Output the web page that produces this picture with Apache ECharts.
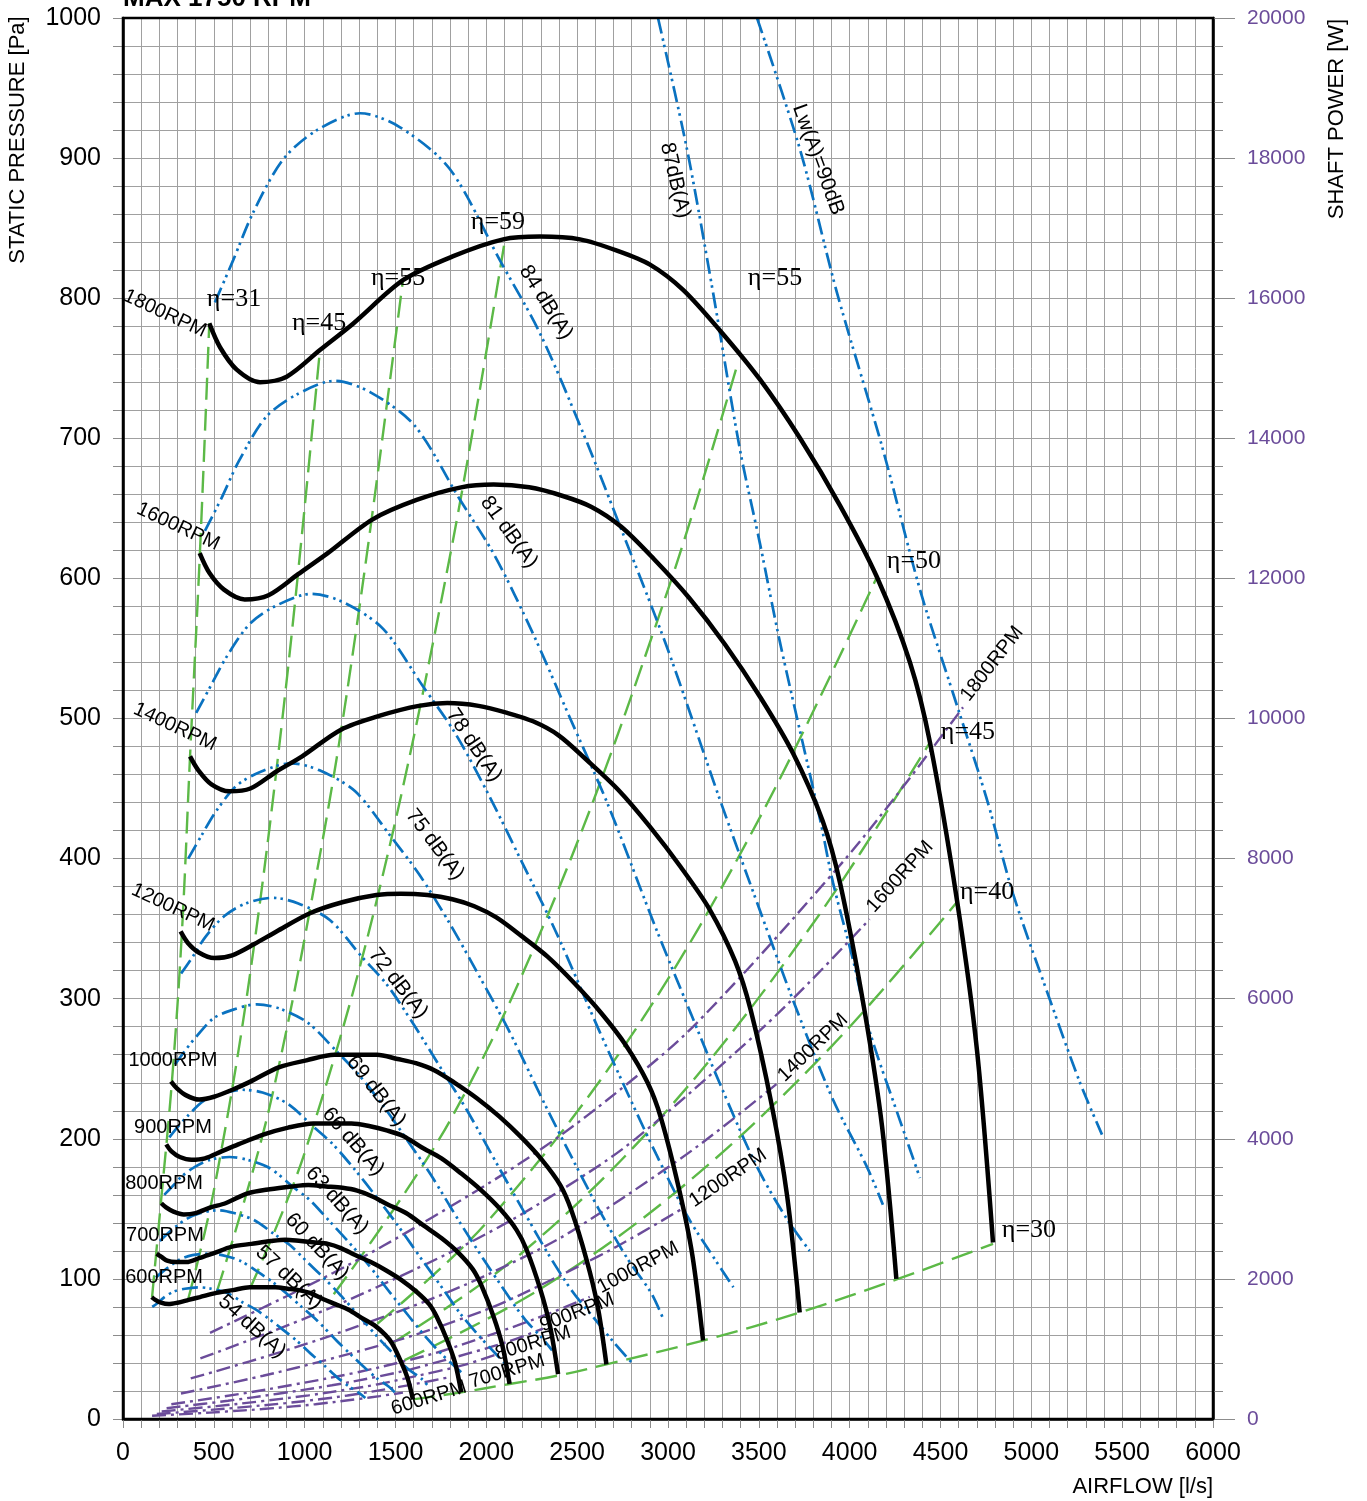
<!DOCTYPE html>
<html><head><meta charset="utf-8">
<script src="https://cdn.jsdelivr.net/npm/echarts/dist/echarts.min.js"></script>
<style>html,body{margin:0;padding:0;background:#fff}#c{width:1367px;height:1501px}</style>
</head><body><div id="c"></div>
<script>
// ---------- axes ----------
const xAxisRange = [0, 6000, 500];
const pAxisRange = [0, 1000, 100];
const wAxisRange = [0, 20000, 2000];

// ---------- fan curves (airflow l/s, static pressure Pa) ----------
const rpm1800 = [[475,782],[534,765],[626,749],[754,740],[901,744],[1084,763],[1268,782],[1543,813],[1818,830],[2093,842],[2295,844],[2516,842],[2719,834],[2901,824],[3083,806],[3286,777],[3506,742],[3727,700],[3947,652],[4150,601],[4332,540],[4442,483],[4591,370],[4701,263],[4789,126]];
const rpm1600 = [[422,618],[475,604],[556,592],[670,585],[801,588],[964,603],[1127,618],[1372,642],[1616,656],[1861,665],[2040,667],[2236,665],[2417,659],[2579,651],[2741,637],[2921,614],[3117,586],[3313,553],[3509,515],[3689,475],[3851,427],[3948,382],[4081,292],[4179,208],[4257,100]];
const rpm1400 = [[369,473],[415,463],[487,453],[586,448],[701,450],[843,462],[986,473],[1200,492],[1414,502],[1628,509],[1785,511],[1957,509],[2115,504],[2257,498],[2398,488],[2556,470],[2727,449],[2899,423],[3070,394],[3228,364],[3369,327],[3455,292],[3571,224],[3656,159],[3725,76]];
const rpm1200 = [[317,348],[356,340],[417,333],[503,329],[601,331],[723,339],[845,348],[1029,361],[1212,369],[1395,374],[1530,375],[1677,374],[1813,371],[1934,366],[2055,358],[2191,345],[2337,330],[2485,311],[2631,290],[2767,267],[2888,240],[2961,215],[3061,164],[3134,117],[3193,56]];
const rpm1000 = [[264,241],[297,236],[348,231],[419,228],[501,230],[602,235],[704,241],[857,251],[1010,256],[1163,260],[1275,260],[1398,260],[1511,257],[1612,254],[1713,249],[1826,240],[1948,229],[2071,216],[2193,201],[2306,185],[2407,167],[2468,149],[2551,114],[2612,81],[2661,39]];
const rpm900 = [[238,196],[267,191],[313,187],[377,185],[451,186],[542,191],[634,196],[772,203],[909,208],[1047,211],[1148,211],[1258,211],[1360,209],[1451,206],[1542,202],[1643,194],[1753,186],[1864,175],[1974,163],[2075,150],[2166,135],[2221,121],[2296,93],[2351,66],[2395,32]];
const rpm800 = [[211,154],[237,151],[278,148],[335,146],[400,147],[482,151],[564,154],[686,161],[808,164],[930,166],[1020,167],[1118,166],[1208,165],[1289,163],[1370,159],[1460,153],[1558,147],[1656,138],[1754,129],[1844,119],[1925,107],[1974,95],[2040,73],[2089,52],[2128,25]];
const rpm700 = [[185,118],[208,116],[243,113],[293,112],[350,112],[422,115],[493,118],[600,123],[707,125],[814,127],[893,128],[978,127],[1057,126],[1128,125],[1199,122],[1278,117],[1364,112],[1449,106],[1535,99],[1614,91],[1685,82],[1727,73],[1785,56],[1828,40],[1862,19]];
const rpm600 = [[158,87],[178,85],[209,83],[251,82],[300,83],[361,85],[423,87],[514,90],[606,92],[698,94],[765,94],[839,94],[906,93],[967,92],[1028,90],[1095,86],[1169,82],[1242,78],[1316,72],[1383,67],[1444,60],[1481,54],[1530,41],[1567,29],[1596,14]];

// ---------- sound power lines Lw(A) ----------
const db90 = [[3490,1000],[3727,906],[3930,804],[4183,692],[4387,592],[4569,518],[4756,442],[4899,375],[5103,299],[5268,240],[5389,203]];
const db87 = [[2945,1000],[3105,906],[3248,804],[3396,692],[3506,625],[3617,554],[3837,428],[3908,383],[4018,328],[4112,276],[4277,213],[4387,172]];
const db84 = [[506,797],[606,827],[716,861],[881,899],[1068,920],[1305,932],[1525,922],[1800,892],[2075,827],[2295,775],[2532,704],[2752,632],[2994,551],[3286,442],[3506,363],[3688,299],[3908,228],[4095,180],[4183,153]];
const db81 = [[451,634],[541,657],[639,684],[786,715],[953,731],[1164,741],[1360,733],[1606,709],[1851,657],[2047,616],[2259,560],[2455,502],[2671,438],[2931,351],[3127,289],[3290,238],[3486,181],[3653,143],[3780,120]];
const db78 = [[403,504],[482,523],[570,544],[701,568],[850,581],[1038,589],[1213,583],[1432,564],[1651,523],[1826,490],[2015,445],[2190,399],[2382,348],[2615,279],[2790,229],[2935,189],[3110,144],[3258,114],[3360,94]];
const db75 = [[359,400],[430,416],[508,433],[625,452],[758,462],[926,468],[1082,463],[1278,448],[1473,416],[1629,389],[1797,354],[1953,318],[2125,277],[2332,222],[2489,182],[2618,150],[2774,115],[2907,90],[2972,72]];
const db72 = [[320,318],[384,330],[453,344],[558,359],[676,368],[826,372],[965,368],[1140,356],[1314,330],[1453,310],[1603,281],[1742,252],[1895,220],[2080,177],[2220,145],[2335,119],[2474,91],[2593,72],[2700,55],[2802,40]];
const db69 = [[286,253],[342,263],[404,273],[498,286],[603,292],[737,296],[861,293],[1016,283],[1172,263],[1296,246],[1430,224],[1554,201],[1691,175],[1856,140],[1980,115],[2083,95],[2207,72],[2312,57],[2362,49]];
const db66 = [[255,201],[305,209],[361,217],[444,227],[538,232],[657,235],[768,233],[907,225],[1045,209],[1156,196],[1276,178],[1386,160],[1508,139],[1655,112],[1766,92],[1858,75],[1969,58],[2063,45],[2107,39]];
const db63 = [[227,160],[272,166],[322,173],[396,180],[480,185],[586,187],[685,185],[809,179],[933,166],[1031,156],[1138,141],[1237,127],[1345,111],[1477,89],[1576,73],[1657,60],[1756,46],[1840,36],[1880,31]];
const db60 = [[203,127],[243,132],[287,137],[353,143],[428,147],[523,149],[611,147],[721,142],[832,132],[920,124],[1015,112],[1103,101],[1200,88],[1317,71],[1405,58],[1478,48],[1566,36],[1641,29],[1677,24]];
const db57 = [[181,101],[217,105],[256,109],[315,114],[382,117],[467,118],[545,117],[644,113],[742,105],[821,98],[905,89],[984,80],[1071,70],[1175,56],[1254,46],[1319,38],[1398,29],[1464,23],[1496,19]];
const db54 = [[161,80],[193,83],[228,87],[281,91],[341,93],[416,94],[486,93],[574,90],[662,83],[732,78],[808,71],[878,64],[955,56],[1048,45],[1118,37],[1176,30],[1247,23],[1306,18],[1334,15]];

// ---------- efficiency lines ----------
const eta31 = [[160,87],[209,155],[270,242],[325,349],[369,473],[424,620],[475,782]];
const eta45a = [[358,85],[500,163],[700,318],[900,526],[1084,763]];
const eta53 = [[517,91],[800,219],[1100,414],[1300,578],[1541,813]];
const eta59 = [[699,93],[1000,190],[1400,372],[1800,616],[2103,842]];
const eta55 = [[1160,89],[1800,213],[2400,379],[3000,592],[3385,754]];
const eta50 = [[1400,68],[2000,140],[2800,274],[3500,428],[4150,601]];
const eta45b = [[1480,54],[2200,119],[3000,221],[3800,354],[4442,483]];
const eta40 = [[1550,42],[2300,93],[3100,168],[3900,266],[4591,369]];
const eta30 = [[1596,14],[1862,19],[2128,25],[2395,31],[2661,39],[3193,56],[3725,76],[4266,100],[4789,125]];

// ---------- shaft power (airflow l/s, W) ----------
const pw1800 = [[479,1230],[1156,2084],[1706,2884],[2300,3850],[2807,4850],[3176,5700],[3908,7790],[4239,8840],[4624,10160]];
const pw1600 = [[426,864],[1028,1464],[1516,2025],[2044,2704],[2495,3406],[2823,4003],[3474,5471],[3768,6208],[4110,7135]];
const pw1400 = [[373,579],[899,981],[1327,1357],[1789,1811],[2183,2282],[2470,2682],[3040,3665],[3297,4159],[3597,4780]];
const pw1200 = [[319,364],[771,617],[1137,855],[1533,1141],[1871,1437],[2117,1689],[2605,2308],[2826,2619],[3083,3010]];
const pw1000 = [[266,211],[642,357],[948,495],[1278,660],[1560,832],[1765,978],[2171,1336],[2355,1516],[2569,1742]];
const pw900 = [[240,154],[578,261],[853,361],[1150,481],[1404,606],[1588,713],[1954,974],[2120,1105],[2312,1290]];
const pw800 = [[213,108],[514,183],[758,253],[1022,338],[1247,426],[1411,500],[1737,684],[1884,776],[2055,920]];
const pw700 = [[186,72],[450,123],[663,170],[895,226],[1092,285],[1235,335],[1520,458],[1649,520],[1798,597]];
const pw600 = [[160,46],[385,77],[569,107],[767,142],[936,180],[1059,211],[1303,288],[1413,327],[1541,376]];

// ---------- annotation texts (anchor in airflow / pressure units) ----------
const rpmLabels = [['1800RPM',231,789,-25],['1600RPM',303,637,-25],['1400RPM',286,494,-25],['1200RPM',275,365,-25],['1000RPM',275,256,0],['900RPM',275,208,0],['800RPM',226,168,0],['700RPM',231,131,0],['600RPM',226,101,0]];
const etaLabels = [['η=31',611,799],['η=45',1079,782],['η=55',1514,814],['η=59',2064,854],['η=55',3589,814],['η=50',4354,612],['η=45',4651,490],['η=40',4756,376],['η=30',4987,135]];
const dbLabels = [['54 dB(A)',710,66,-42],['57 dB(A)',914,101,-43],['60 dB(A)',1068,123,-47],['63 dB(A)',1178,156,-48],['66 dB(A)',1266,198,-49],['69 dB(A)',1393,234,-52],['72 dB(A)',1514,311,-52],['75 dB(A)',1717,410,-53],['78 dB(A)',1932,481,-56],['81 dB(A)',2125,633,-54],['84 dB(A)',2328,797,-58],['87dB(A)',3039,884,-77],['Lw(A)=90dB',3826,899,-70]];
const pwLabels = [['1800RPM',4784,539,52],['1600RPM',4277,387,48],['1400RPM',3798,265,44],['1200RPM',3330,172,34],['1000RPM',2835,108,28],['900RPM',2499,76,21],['800RPM',2257,54,17],['700RPM',2114,34,17],['600RPM',1684,15,17]];

const BLUE = '#0a72c0', GREEN = '#5cb947', PURPLE = '#6b4c9a', GRIDC = '#a0a0a0', TICKC = '#8c8c8c';
const SANS = '"Liberation Sans", Arial, sans-serif';
const SERIF = '"Liberation Serif", "Times New Roman", serif';

function ln(data, color, width, type, yIdx, z, smooth) {
  return {type: 'line', data: data, yAxisIndex: yIdx || 0, symbol: 'none', showSymbol: false,
    smooth: smooth === undefined ? 0.35 : smooth, silent: true, animation: false, z: z,
    lineStyle: {color: color, width: width, type: type, cap: 'butt'}};
}

const chart = echarts.init(document.getElementById('c'));
const series = [];
[eta31, eta45a, eta53, eta59, eta55, eta50, eta45b, eta40, eta30].forEach(d => series.push(ln(d, GREEN, 2.4, [22, 9], 0, 3)));
[pw1800, pw1600, pw1400, pw1200, pw1000, pw900, pw800, pw700, pw600].forEach(d => series.push(ln(d, PURPLE, 2.4, [14, 5, 3, 5], 1, 4)));
[db90, db87, db84, db81, db78, db75, db72, db69, db66, db63, db60, db57, db54].forEach(d => series.push(ln(d, BLUE, 2.7, [16, 5, 2.5, 4, 2.5, 5], 0, 5, 0.3)));
[rpm1800, rpm1600, rpm1400, rpm1200, rpm1000, rpm900, rpm800, rpm700, rpm600].forEach(d => series.push(ln(d, '#000', 4.5, 'solid', 0, 6, 0.3)));

const plain = v => String(v);
chart.setOption({
  animation: false,
  backgroundColor: '#fff',
  grid: {left: 123, right: 154, top: 18, bottom: 82, show: false},
  xAxis: {type: 'value', min: xAxisRange[0], max: xAxisRange[1], interval: xAxisRange[2],
    axisLine: {show: true, onZero: false, lineStyle: {color: '#000', width: 2.5}},
    axisTick: {show: true, length: 9, lineStyle: {color: TICKC, width: 1}},
    minorTick: {show: true, splitNumber: 5, length: 9, lineStyle: {color: TICKC, width: 1}},
    splitLine: {show: true, lineStyle: {color: GRIDC, width: 1}},
    minorSplitLine: {show: true, lineStyle: {color: GRIDC, width: 1}},
    axisLabel: {color: '#000', fontSize: 25, fontFamily: SANS, margin: 22, formatter: plain}},
  yAxis: [
    {type: 'value', min: pAxisRange[0], max: pAxisRange[1], interval: pAxisRange[2], position: 'left',
      axisLine: {show: true, onZero: false, lineStyle: {color: '#000', width: 2.5}},
      axisTick: {show: true, length: 10, lineStyle: {color: TICKC, width: 1}},
      minorTick: {show: true, splitNumber: 5, length: 10, lineStyle: {color: TICKC, width: 1}},
      splitLine: {show: true, lineStyle: {color: GRIDC, width: 1}},
      minorSplitLine: {show: true, lineStyle: {color: GRIDC, width: 1}},
      axisLabel: {color: '#000', fontSize: 25, fontFamily: SANS, margin: 22, formatter: plain}},
    {type: 'value', min: wAxisRange[0], max: wAxisRange[1], interval: wAxisRange[2], position: 'right',
      axisLine: {show: true, onZero: false, lineStyle: {color: '#000', width: 2.5}},
      axisTick: {show: true, length: 22, lineStyle: {color: TICKC, width: 1}},
      minorTick: {show: true, splitNumber: 5, length: 10, lineStyle: {color: TICKC, width: 1}},
      splitLine: {show: false}, minorSplitLine: {show: false},
      axisLabel: {color: PURPLE, fontSize: 21, fontFamily: SANS, margin: 34, formatter: plain}}
  ],
  series: series
});

const g = [];
const P = (x, y) => chart.convertToPixel({xAxisIndex: 0, yAxisIndex: 0}, [x, y]);
const deg = a => a * Math.PI / 180;
function txt(t, p, rot, size, fam) {
  return {type: 'text', x: p[0], y: p[1], rotation: deg(rot || 0), z: 50, silent: true,
    style: {text: t, fill: '#000', fontSize: size, fontFamily: fam, align: 'center', verticalAlign: 'middle'}};
}
rpmLabels.forEach(l => g.push(txt(l[0], P(l[1], l[2]), l[3], 20, SANS)));
etaLabels.forEach(l => g.push(txt(l[0], P(l[1], l[2]), 0, 26, SERIF)));
dbLabels.forEach(l => g.push(txt(l[0], P(l[1], l[2]), l[3], 21, SANS)));
pwLabels.forEach(l => g.push(txt(l[0], P(l[1], l[2]), l[3], 20, SANS)));

const tl = P(0, 1000), br = P(6000, 0);
g.push({type: 'rect', z: 40, silent: true, shape: {x: tl[0], y: tl[1], width: br[0] - tl[0], height: br[1] - tl[1]},
  style: {fill: 'none', stroke: '#000', lineWidth: 2.5}});
g.push({type: 'text', x: tl[0], y: 12, z: 50, style: {text: 'MAX 1750 RPM', fill: '#000', fontSize: 26, fontWeight: 'bold', fontFamily: SANS, align: 'left', verticalAlign: 'bottom'}});
g.push({type: 'text', x: 18, y: 140, rotation: Math.PI / 2, z: 50, style: {text: 'STATIC PRESSURE [Pa]', fill: '#000', fontSize: 22, fontFamily: SANS, align: 'center', verticalAlign: 'middle'}});
g.push({type: 'text', x: 1337, y: 119, rotation: Math.PI / 2, z: 50, style: {text: 'SHAFT POWER [W]', fill: '#000', fontSize: 22, fontFamily: SANS, align: 'center', verticalAlign: 'middle'}});
g.push({type: 'text', x: br[0], y: 1487, z: 50, style: {text: 'AIRFLOW [l/s]', fill: '#000', fontSize: 22, fontFamily: SANS, align: 'right', verticalAlign: 'middle'}});
chart.setOption({graphic: g});
</script></body></html>
